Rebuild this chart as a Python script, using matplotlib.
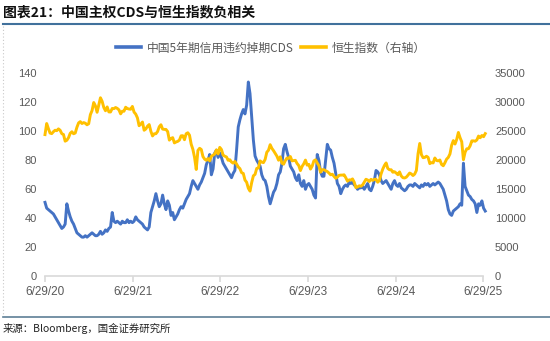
import matplotlib
matplotlib.use("Agg")
import matplotlib.pyplot as plt
import matplotlib.dates as mdates
from matplotlib.lines import Line2D
import pandas as pd

plt.rcParams['font.family'] = ['Noto Sans CJK SC', 'DejaVu Sans']

# Weekly observations (Mondays) starting 2020-06-29
start_date = '2020-06-29'

# China 5Y sovereign CDS, bp
cds = [
    51,
    47, 46, 45, 44,
    43, 41, 39, 37, 35,
    33, 34, 36, 50,
    45, 41, 38, 36,
    33, 30, 29, 28, 27,
    27, 28, 27, 28,
    29, 30, 29, 28,
    28, 29, 31, 29,
    30, 32, 31, 33, 34,
    44, 38, 37, 38,
    37, 36, 38, 37, 37,
    39, 37, 38, 37,
    38, 41, 39, 38,
    37, 36, 34, 33, 32,
    34, 44, 48, 52,
    57, 52, 48, 50,
    56, 50, 46, 52, 49,
    42, 44, 39, 41,
    43, 46, 48, 47, 50,
    53, 55, 57, 62,
    66, 64, 62, 60,
    63, 65, 68, 71,
    77, 80, 84, 70, 74,
    85, 87, 82, 85,
    82, 78, 76, 74,
    72, 70, 68, 71, 73,
    87, 103, 108, 112,
    115, 112, 118, 134, 126,
    110, 94, 83, 80,
    78, 76, 70, 67,
    66, 62, 55, 50, 54,
    58, 60, 64, 70,
    72, 78, 88, 91,
    86, 82, 76, 74,
    72, 68, 66, 70, 64,
    62, 66, 60, 63,
    64, 62, 60, 56, 54,
    84, 80, 72, 69,
    69, 80, 91, 88,
    87, 82, 78, 71, 64,
    62, 57, 60, 62,
    63, 62, 65, 64,
    65, 63, 62, 60, 61,
    61, 62, 60, 62,
    64, 60, 59, 62,
    66, 73, 72, 70, 66,
    64, 65, 66, 64,
    62, 60, 64, 66,
    63, 62, 64, 61, 60,
    59, 60, 62, 63,
    63, 62, 64, 63, 62,
    61, 63, 62, 64,
    63, 64, 62, 63,
    64, 63, 64, 65, 64,
    62, 60, 56, 52,
    46, 43, 42, 45,
    46, 47, 48, 50, 49,
    78, 62, 59, 56,
    55, 53, 52, 50,
    44, 50, 49, 52, 47,
    45,
]

# Hang Seng Index close
hsi = [
    24430,
    26340, 25480, 24700, 24600,
    24930, 25180, 25110, 25420, 25180,
    24590, 24450, 23300, 23460,
    23900, 24650, 24920, 24580,
    24710, 25700, 26450, 26670, 26340,
    26500, 26390, 26120, 26310,
    27880, 28570, 29960, 29390,
    28280, 29520, 30780, 30170,
    29100, 28540, 29200, 28340, 28330,
    28940, 28900, 29100, 28950,
    28700, 28010, 28460, 28460, 29150,
    28920, 28840, 28800, 29290,
    28310, 27960, 27320, 25960,
    26240, 26600, 25180, 25400, 25880,
    26160, 25000, 24200, 24570,
    24580, 24960, 25790, 26130,
    25380, 25330, 25320, 24950, 23480,
    23770, 23900, 23000, 23160,
    23270, 23490, 24220, 24240, 23550,
    24580, 24750, 24330, 22770,
    21900, 20500, 18420, 21700,
    22070, 21870, 20640, 20200,
    20000, 20300, 19900, 20700, 20900,
    21080, 21800, 21100, 22230,
    21860, 20900, 20700, 20580,
    20000, 20100, 19700, 19500, 19800,
    19360, 18850, 18560, 17860,
    17740, 16600, 16210, 15180, 14690,
    16160, 17330, 17570, 18600,
    18680, 19900, 19680, 19600,
    20150, 21390, 21740, 22690, 22070,
    21660, 21190, 20720, 20010,
    20600, 19500, 19330, 19950,
    20400, 20330, 20650, 19900,
    19950, 20000, 19450, 19100, 18230,
    18950, 19400, 20040, 19170,
    19300, 18480, 19000, 19900, 20080,
    19540, 19070, 17950, 18380,
    18380, 18200, 18060, 17800,
    17500, 17600, 17230, 16900, 17090,
    17400, 17450, 17450, 17500,
    17000, 16400, 16630, 16600,
    16790, 16240, 15300, 15400, 15600,
    15530, 15750, 16250, 16730,
    16600, 16350, 16720, 16540,
    16720, 16730, 16220, 16510, 17650,
    18480, 19110, 19550, 18600,
    18370, 18370, 17940, 18030,
    17800, 17520, 18000, 17300, 17000,
    16950, 17090, 17430, 17800,
    17650, 17370, 17630, 18250, 21130,
    22900, 20980, 20450, 20500,
    20700, 20500, 19430, 19600,
    19550, 20400, 19970, 19900, 20050,
    19280, 19060, 19580, 20200,
    20500, 21100, 22600, 23400,
    22800, 23600, 24800, 23900, 23200,
    20100, 21400, 21980, 22000,
    22500, 23350, 23350, 23290,
    23510, 24180, 23890, 24280, 24070,
    24600,
]

tick_dates = ['2020-06-29', '2021-06-29', '2022-06-29',
              '2023-06-29', '2024-06-29', '2025-06-29']
tick_labels = ['6/29/20', '6/29/21', '6/29/22', '6/29/23', '6/29/24', '6/29/25']
left_ticks = [0, 20, 40, 60, 80, 100, 120, 140]
right_ticks = [0, 5000, 10000, 15000, 20000, 25000, 30000, 35000]

cds_label = '中国5年期信用违约掉期CDS'
hsi_label = '恒生指数（右轴）'
title = '图表21：中国主权CDS与恒生指数负相关'
source = '来源：Bloomberg，国金证券研究所'

BLUE = '#4472C4'
GOLD = '#FFC000'
GREY = '#595959'
AXIS = '#D9D9D9'
RULE = '#41719C'

cds_dates = pd.date_range(start_date, periods=len(cds), freq='W-MON')
hsi_dates = pd.date_range(start_date, periods=len(hsi), freq='W-MON')
ticks = pd.to_datetime(tick_dates)
tick_nums = mdates.date2num(ticks.to_pydatetime())

W, H = 550, 341
fig = plt.figure(figsize=(W / 100, H / 100), dpi=100)
fig.patch.set_facecolor('white')

left, right, top, bottom = 45, 486.7, 73.3, 276.3
ax = fig.add_axes([left / W, 1 - bottom / H, (right - left) / W, (bottom - top) / H])
ax2 = ax.twinx()

l1, = ax.plot(cds_dates, cds, color=BLUE, lw=2.1, solid_joinstyle='round', clip_on=False)
l2, = ax2.plot(hsi_dates, hsi, color=GOLD, lw=2.1, solid_joinstyle='round', clip_on=False)

ax.set_xlim(tick_nums[0], tick_nums[-1] + 14)
ax.set_ylim(0, 140)
ax2.set_ylim(0, 35000)

for a in (ax, ax2):
    for s in a.spines.values():
        s.set_visible(False)
ax.spines['bottom'].set_visible(True)
ax.spines['bottom'].set_color(AXIS)
ax.spines['bottom'].set_linewidth(1.2)
ax.spines['bottom'].set_bounds(tick_nums[0], tick_nums[-1])

num_font = 'Liberation Sans'
ax.set_xticks(tick_nums)
ax.set_xticklabels(tick_labels, fontfamily=num_font)
ax.tick_params(axis='x', direction='out', length=4, width=1.2, color=AXIS,
               labelcolor=GREY, labelsize=8.5, pad=3)
ax.set_yticks(left_ticks)
ax.set_yticklabels([str(v) for v in left_ticks], fontfamily=num_font)
ax.tick_params(axis='y', length=0, labelcolor=GREY, labelsize=8, pad=6)
ax2.set_yticks(right_ticks)
ax2.set_yticklabels([str(v) for v in right_ticks], fontfamily=num_font)
ax2.tick_params(axis='y', length=0, labelcolor=GREY, labelsize=8, pad=6)

leg = fig.legend([l1, l2], [cds_label, hsi_label], loc='center',
                 bbox_to_anchor=(271 / W, 1 - 48 / H), ncol=2, frameon=False,
                 fontsize=8.5, handlelength=2.1, handletextpad=0.5,
                 columnspacing=0.6, labelcolor=GREY)
for h in leg.legend_handles:
    h.set_linewidth(2.6)

fig.text(3 / W, 1 - 12 / H, title, fontsize=10, fontweight='bold',
         color='#111111', ha='left', va='center')
fig.add_artist(Line2D([3 / W, 1], [1 - 24 / H] * 2, color=RULE, lw=1.5))
fig.add_artist(Line2D([3 / W, 1], [1 - 316.7 / H] * 2, color='#5E7F96', lw=1.2))
fig.add_artist(Line2D([3 / W, 3 / W], [1 - 26 / H, 1 - 315 / H], color='#C8C8C8',
                      lw=0.8, ls=(0, (1, 2))))
fig.text(3 / W, 1 - 328 / H, source, fontsize=7.5, color='#222222',
         ha='left', va='center')

fig.savefig('out.png', dpi=100, facecolor='white')
